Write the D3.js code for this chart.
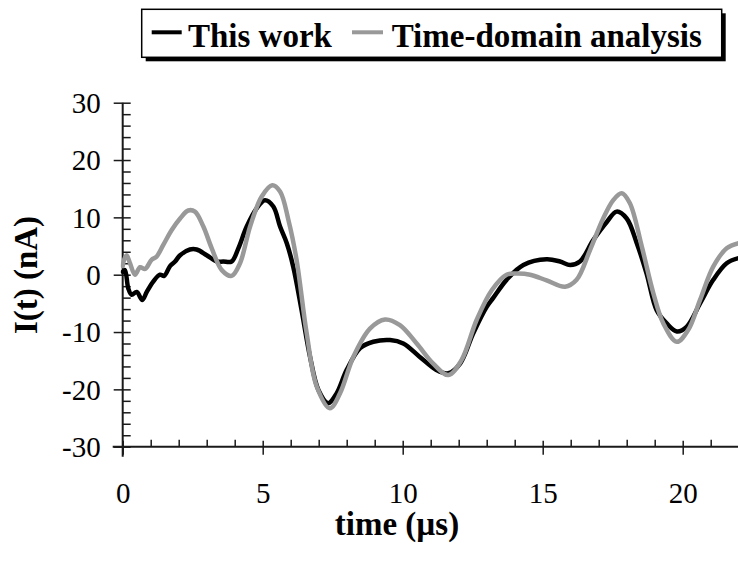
<!DOCTYPE html>
<html>
<head>
<meta charset="utf-8">
<script src="https://cdn.jsdelivr.net/npm/d3@7"></script>
<style>
  html, body { margin: 0; padding: 0; background: #fff; }
  svg { display: block; font-family: "Liberation Serif", "Times New Roman", serif; }
</style>
</head>
<body>
<svg id="chart" width="738" height="568"></svg>
<script>
// Current I(t) in nA against time in microseconds
const timeThisWork = [0, 0.08, 0.2, 0.32, 0.5, 0.7, 0.86, 1.09, 1.33, 1.48, 1.69, 1.87, 2.05, 2.4, 2.64, 3.0, 3.36, 3.59, 3.89, 4.13, 4.43, 4.79, 5.08, 5.38, 5.62, 5.86, 6.09, 6.39, 6.69, 6.99, 7.34, 7.64, 8.0, 8.48, 8.95, 9.55, 10.02, 10.6, 11.2, 11.63, 12.05, 12.52, 13.0, 13.24, 13.71, 14.31, 15.14, 15.62, 15.98, 16.33, 16.8, 17.29, 17.64, 18.0, 18.36, 18.71, 19.07, 19.43, 19.79, 20.14, 20.62, 21.09, 21.57, 22.0];
const currentThisWork = [0.5, 0.8, -2.4, -3.5, -3.0, -4.4, -3.0, -1.2, 0, -0.2, 1.5, 2.3, 3.4, 4.4, 4.4, 3.4, 2.3, 2.3, 2.3, 4.6, 8.4, 11.6, 13.0, 11.9, 8.4, 5.5, 1.4, -6.2, -14.3, -20.1, -22.4, -20.7, -16.6, -12.8, -11.7, -11.4, -12.0, -14.3, -16.6, -17.2, -15.5, -10.2, -5.6, -4.0, -0.9, 1.7, 2.7, 2.3, 1.7, 2.3, 6.0, 9.2, 11.0, 9.8, 5.5, 0.2, -6.2, -8.5, -9.9, -9.1, -5.0, -0.9, 2.0, 2.9];

const timeTimeDomain = [0, 0.05, 0.14, 0.26, 0.44, 0.62, 0.8, 1.03, 1.2, 1.45, 1.75, 2.05, 2.34, 2.58, 2.88, 3.18, 3.54, 3.89, 4.19, 4.55, 4.96, 5.34, 5.62, 5.92, 6.21, 6.57, 6.93, 7.4, 7.76, 8.24, 8.83, 9.37, 9.9, 10.5, 11.09, 11.63, 12.1, 12.64, 13.18, 13.71, 14.07, 14.55, 15.14, 15.8, 16.21, 16.69, 17.16, 17.52, 17.82, 18.11, 18.54, 18.95, 19.31, 19.79, 20.2, 20.62, 21.09, 21.57, 22.0];
const currentTimeDomain = [1.5, 2.6, 3.4, 2.0, 0, 1.3, 1.0, 2.6, 3.1, 5.2, 7.8, 9.8, 11.2, 11.0, 8.4, 4.6, 0.8, -0.2, 2.0, 8.4, 13.6, 15.6, 14.5, 9.5, 2.6, -10.2, -19.5, -23.3, -20.7, -14.3, -9.4, -7.8, -8.8, -12.0, -15.5, -17.5, -14.9, -7.9, -2.7, 0, 0.2, 0, -1.0, -2.1, -0.9, 4.3, 9.8, 13.0, 14.2, 12.5, 4.9, -3.2, -8.5, -11.7, -9.6, -4.4, 1.4, 4.6, 5.5];

const xMajorTicks = [0, 5, 10, 15, 20];
const yMajorTicks = [-30, -20, -10, 0, 10, 20, 30];
const seriesNames = ["This work", "Time-domain analysis"];
const seriesColors = ["#000000", "#999999"];

const svg = d3.select("#chart");
const plot = { left: 122.7, right: 738.7, top: 102.7, bottom: 446.7 };

const x = d3.scaleLinear().domain([0, 22]).range([plot.left, plot.right]);
const y = d3.scaleLinear().domain([-30, 30]).range([plot.bottom, plot.top]);

// Integer labels with a plain hyphen for negatives
const tickFmt = d => String(Math.round(d));

// Minor ticks
const xMinor = d3.range(0, 23, 1).filter(v => v % 5 !== 0);
const yMinor = d3.range(-30, 31, 2).filter(v => v % 10 !== 0);

const axisColor = "#1a1a1a";

// X axis: minor ticks point up, major ticks cross the line
const xAxisG = svg.append("g").attr("transform", `translate(0,${plot.bottom})`);
xAxisG.call(d3.axisBottom(x).tickValues(xMinor).tickSize(0).tickFormat(""));
xAxisG.select(".domain").remove();
xAxisG.append("line").attr("x1", plot.left - 10).attr("x2", 738).attr("stroke", axisColor).attr("stroke-width", 2);
xAxisG.selectAll(".tick line").attr("y1", 0).attr("y2", -7).attr("stroke", axisColor).attr("stroke-width", 1.5);

const xMajor = svg.append("g").attr("transform", `translate(0,${plot.bottom})`)
  .call(d3.axisBottom(x).tickValues(xMajorTicks).tickSize(8).tickFormat(tickFmt));
xMajor.select(".domain").remove();
xMajor.selectAll(".tick line").attr("y1", -6).attr("y2", 8).attr("stroke", axisColor).attr("stroke-width", 1.5);
xMajor.selectAll(".tick text")
  .attr("font-family", "Liberation Serif, serif").attr("font-size", 29).attr("fill", "#000")
  .attr("dy", 0).attr("y", 56);

// Y axis: minor ticks point right, major ticks cross the line
const yAxisG = svg.append("g").attr("transform", `translate(${plot.left},0)`);
yAxisG.call(d3.axisLeft(y).tickValues(yMinor).tickSize(0).tickFormat(""));
yAxisG.select(".domain").remove();
yAxisG.append("line").attr("y1", plot.top).attr("y2", plot.bottom + 10).attr("stroke", axisColor).attr("stroke-width", 2);
yAxisG.selectAll(".tick line").attr("x1", 0).attr("x2", 8).attr("stroke", axisColor).attr("stroke-width", 1.5);

const yMajor = svg.append("g").attr("transform", `translate(${plot.left},0)`)
  .call(d3.axisLeft(y).tickValues(yMajorTicks).tickSize(9).tickFormat(tickFmt));
yMajor.select(".domain").remove();
yMajor.selectAll(".tick line").attr("x1", -9).attr("x2", 8).attr("stroke", axisColor).attr("stroke-width", 1.5);
yMajor.selectAll(".tick text")
  .attr("font-family", "Liberation Serif, serif").attr("font-size", 29).attr("fill", "#000")
  .attr("x", -22).attr("dy", "0.34em");

// Curves
svg.append("clipPath").attr("id", "plotClip")
  .append("rect").attr("x", plot.left - 2).attr("y", 0).attr("width", 738 - plot.left + 2).attr("height", 568);

const line = d3.line().x(d => x(d[0])).y(d => y(d[1])).curve(d3.curveCatmullRom.alpha(0.5));

const series = [
  d3.zip(timeThisWork, currentThisWork),
  d3.zip(timeTimeDomain, currentTimeDomain)
];

svg.append("g").attr("clip-path", "url(#plotClip)")
  .selectAll("path").data(series).join("path")
  .attr("d", line)
  .attr("fill", "none")
  .attr("stroke", (d, i) => seriesColors[i])
  .attr("stroke-width", 4.5)
  .attr("stroke-linejoin", "round")
  .attr("stroke-linecap", "round");

// Axis titles
svg.append("text")
  .attr("x", 397).attr("y", 535)
  .attr("text-anchor", "middle")
  .attr("font-size", 33).attr("font-weight", "bold")
  .text("time (µs)");

svg.append("text")
  .attr("transform", "translate(37,275) rotate(-90)")
  .attr("text-anchor", "middle")
  .attr("font-size", 33).attr("font-weight", "bold")
  .text("I(t) (nA)");

// Legend with drop shadow
const legend = svg.append("g");
legend.append("rect").attr("x", 145.7).attr("y", 13.3).attr("width", 580).attr("height", 48).attr("fill", "#000");
legend.append("rect").attr("x", 141.7).attr("y", 9.3).attr("width", 580).attr("height", 48)
  .attr("fill", "#fff").attr("stroke", "#000").attr("stroke-width", 1.5);

const legendItems = [
  { x1: 151.7, x2: 181.7, tx: 188 },
  { x1: 352, x2: 383, tx: 391.7 }
];
legendItems.forEach((it, i) => {
  legend.append("line").attr("x1", it.x1).attr("x2", it.x2).attr("y1", 32.3).attr("y2", 32.3)
    .attr("stroke", seriesColors[i]).attr("stroke-width", 4);
  legend.append("text").attr("x", it.tx).attr("y", 46.7)
    .attr("font-size", 33).attr("font-weight", "bold").attr("fill", "#000")
    .text(seriesNames[i]);
});
</script>
</body>
</html>
